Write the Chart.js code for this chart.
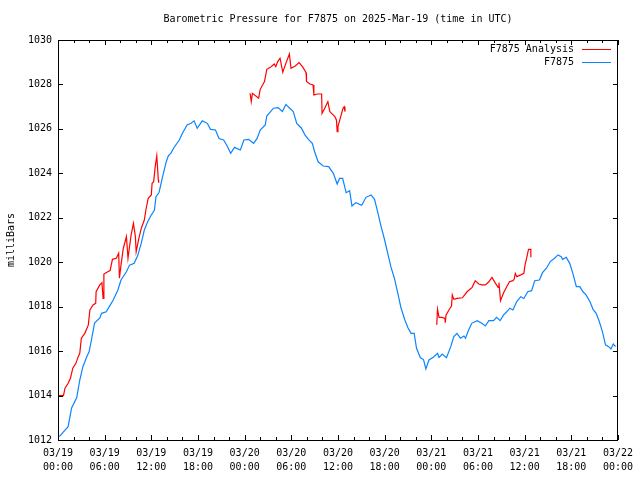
<!DOCTYPE html>
<html lang="en">
<head>
    <meta charset="UTF-8">
    <title>Barometric Pressure for F7875</title>
    <script src="https://cdn.jsdelivr.net/npm/chart.js"></script>
    <style>
        html, body { margin: 0; padding: 0; background: #fff; }
        #wrap { width: 640px; height: 480px; }
    </style>
</head>
<body>
<div id="wrap"><canvas id="pressureChart" width="640" height="480"></canvas></div>
<script>
    const chartTitle = 'Barometric Pressure for F7875 on 2025-Mar-19 (time in UTC)';
    const yAxisTitle = 'milliBars';

    // x values are hours since 2025-03-19 00:00 UTC
    const tickLabels = [
        ['03/19', '00:00'], ['03/19', '06:00'], ['03/19', '12:00'], ['03/19', '18:00'],
        ['03/20', '00:00'], ['03/20', '06:00'], ['03/20', '12:00'], ['03/20', '18:00'],
        ['03/21', '00:00'], ['03/21', '06:00'], ['03/21', '12:00'], ['03/21', '18:00'],
        ['03/22', '00:00']
    ];

    const stationLabel = 'F7875';
    const stationHours = [
        0.0, 0.3, 0.7, 1.3, 1.75, 2.4, 2.8, 3.2, 3.7, 4.0, 4.3, 4.7, 5.4, 5.6, 6.2, 6.6, 7.1, 7.7, 8.1, 8.8,
        9.2, 9.8, 10.25, 10.7, 11.1, 11.5, 11.96, 12.4, 12.6, 13.0, 13.45, 13.9, 14.2, 14.5, 14.9, 15.6, 16.0,
        16.6, 17.1, 17.5, 17.9, 18.55, 19.2, 19.6, 20.25, 20.7, 21.3, 21.75, 22.2, 22.7, 23.45, 23.9, 24.5,
        25.15, 25.6, 26.0, 26.65, 26.85, 27.7, 28.3, 28.85, 29.3, 29.8, 30.25, 30.7, 31.3, 31.75, 32.2, 32.7,
        33.0, 33.45, 34.1, 34.8, 35.4, 35.9, 36.2, 36.6, 37.05, 37.5, 37.8, 38.3, 39.05, 39.6, 40.25, 40.7,
        41.1, 41.5, 42.0, 42.4, 42.8, 43.25, 43.7, 44.1, 44.6, 45.0, 45.4, 45.8, 46.1, 46.6, 47.0, 47.3, 47.7,
        48.35, 48.8, 49.0, 49.4, 49.95, 50.5, 50.9, 51.3, 51.75, 52.2, 52.4, 52.8, 53.2, 53.9, 54.5, 54.95,
        55.4, 56.0, 56.4, 56.85, 57.3, 57.7, 58.1, 58.5, 58.97, 59.5, 59.9, 60.4, 60.9, 61.3, 61.9, 62.3,
        62.8, 63.3, 63.85, 64.3, 64.7, 64.9, 65.35, 65.8, 66.2, 66.65, 67.1, 67.5, 67.9, 68.4, 68.8, 69.2,
        69.6, 70.0, 70.4, 70.8, 71.1, 71.4, 71.7
    ];
    const stationPressure = [
        1012.15, 1012.2, 1012.37, 1012.6, 1013.44, 1013.9, 1014.7, 1015.3, 1015.75, 1015.97, 1016.5, 1017.26,
        1017.5, 1017.7, 1017.77, 1018.0, 1018.3, 1018.75, 1019.2, 1019.57, 1019.87, 1019.95, 1020.3, 1020.85,
        1021.45, 1021.8, 1022.1, 1022.35, 1022.95, 1023.15, 1023.85, 1024.5, 1024.8, 1024.9, 1025.15, 1025.5,
        1025.8, 1026.18, 1026.25, 1026.36, 1026.03, 1026.36, 1026.25, 1025.98, 1025.95, 1025.57, 1025.5,
        1025.23, 1024.9, 1025.17, 1025.05, 1025.5, 1025.53, 1025.35, 1025.57, 1025.95, 1026.18, 1026.58,
        1026.93, 1026.96, 1026.78, 1027.1, 1026.93, 1026.78, 1026.25, 1026.03, 1025.73, 1025.53, 1025.35,
        1024.97, 1024.52, 1024.33, 1024.3, 1024.0, 1023.52, 1023.77, 1023.77, 1023.13, 1023.22, 1022.53,
        1022.68, 1022.56, 1022.92, 1023.03, 1022.83, 1022.27, 1021.67, 1021.0, 1020.4, 1019.8, 1019.28,
        1018.6, 1017.95, 1017.4, 1017.05, 1016.8, 1016.8, 1016.13, 1015.7, 1015.62, 1015.2, 1015.6, 1015.75,
        1015.9, 1015.72, 1015.87, 1015.7, 1016.2, 1016.65, 1016.8, 1016.58, 1016.68, 1016.58, 1016.95,
        1017.25, 1017.37, 1017.25, 1017.13, 1017.37, 1017.37, 1017.52, 1017.37, 1017.63, 1017.77, 1017.93,
        1017.85, 1018.22, 1018.45, 1018.37, 1018.67, 1018.72, 1019.17, 1019.2, 1019.53, 1019.73, 1020.03,
        1020.18, 1020.33, 1020.25, 1020.13, 1020.22, 1019.95, 1019.5, 1018.9, 1018.9, 1018.67, 1018.53,
        1018.22, 1017.88, 1017.7, 1017.33, 1016.88, 1016.28, 1016.2, 1016.1, 1016.32, 1016.2
    ];

    // null = no analysis data (gap in the line)
    const analysisLabel = 'F7875 Analysis';
    const analysisHours = [
        0.0, 0.7, 0.9, 1.3, 1.6, 1.9, 2.3, 2.6, 2.8, 3.0, 3.45, 3.9, 4.1, 4.5, 4.85, 4.9, 5.36, 5.65, 5.8,
        5.9, 6.4, 6.7, 7.0, 7.5, 7.8, 7.9, 8.1, 8.4, 8.8, 9.0, 9.2, 9.4, 9.7, 9.95, 10.05, 10.4, 10.7, 11.1,
        11.3, 11.6, 12.0, 12.1, 12.3, 12.5, 12.7, 12.9, 12.95,
        18.0,
        24.7, 24.85, 25.0, 25.8, 26.0, 26.55, 26.85, 27.3, 27.8, 28.0, 28.25, 28.55, 28.9, 29.3, 29.75,
        29.96, 30.5, 31.0, 31.5, 31.9, 31.95, 32.4, 32.8, 32.9, 33.35, 33.9, 33.95, 34.3, 34.7, 34.95, 35.6,
        35.8, 35.9, 36.0, 36.35, 36.65, 36.8, 36.9,
        42.0,
        48.7, 48.8, 49.0, 49.4, 49.75, 49.8, 49.9, 50.4, 50.6, 50.7, 50.9, 51.3, 52.0, 52.6, 53.25, 53.65,
        54.1, 54.5, 54.95, 55.4, 55.8, 56.25, 56.6, 56.7, 56.9, 57.3, 57.7, 58.05, 58.5, 58.65, 58.8, 59.0,
        59.5, 59.9, 60.05, 60.3, 60.5, 60.8, 60.8
    ];
    const analysisPressure = [
        1014.0, 1014.0, 1014.33, 1014.55, 1014.78, 1015.23, 1015.45, 1015.75, 1015.9, 1016.58, 1016.8,
        1017.18, 1017.85, 1018.08, 1018.15, 1018.67, 1018.97, 1019.08, 1018.37, 1019.47, 1019.57, 1019.62,
        1020.13, 1020.18, 1020.4, 1019.28, 1019.87, 1020.63, 1021.15, 1020.18, 1020.7, 1021.22, 1021.75,
        1021.15, 1020.47, 1021.07, 1021.52, 1021.9, 1022.35, 1022.88, 1023.03, 1023.55, 1023.62, 1024.3,
        1024.78, 1023.7, 1023.58,
        null,
        1027.6, 1027.23, 1027.6, 1027.38, 1027.78, 1028.13, 1028.68, 1028.77, 1028.92, 1028.8, 1029.03,
        1029.18, 1028.55, 1028.95, 1029.37, 1028.73, 1028.83, 1028.98, 1028.77, 1028.53, 1028.13, 1028.02,
        1027.98, 1027.53, 1027.57, 1027.57, 1026.7, 1026.93, 1027.23, 1026.78, 1026.55, 1026.4, 1025.88,
        1026.1, 1026.55, 1026.93, 1027.0, 1026.78,
        null,
        1017.18, 1017.88, 1017.52, 1017.52, 1017.47, 1017.28, 1017.63, 1017.93, 1018.03, 1018.53, 1018.33,
        1018.37, 1018.4, 1018.67, 1018.87, 1019.17, 1019.02, 1018.98, 1018.98, 1019.12, 1019.32, 1019.05,
        1018.87, 1019.08, 1018.27, 1018.63, 1018.9, 1019.12, 1019.17, 1019.23, 1019.5, 1019.35, 1019.43,
        1019.5, 1019.87, 1020.25, 1020.58, 1020.58, 1020.22
    ];

    const FONT = '"DejaVu Sans Mono", "Liberation Mono", monospace';

    function toPoints(xs, ys) {
        return xs.map((x, i) => ({ x: x, y: ys[i] }));
    }

    // gnuplot-like frame: box, inward ticks on all sides, title, legend in the corner
    const gnuplotFrame = {
        id: 'gnuplotFrame',
        afterDraw(chart) {
            const ctx = chart.ctx;
            const area = chart.chartArea;
            const xs = chart.scales.x;
            const ys = chart.scales.y;
            ctx.save();
            ctx.strokeStyle = '#000';
            ctx.lineWidth = 1;
            ctx.beginPath();
            ctx.rect(Math.round(area.left) + 0.5, Math.round(area.top) + 0.5,
                Math.round(area.right - area.left) - 1, Math.round(area.bottom - area.top));

            ys.ticks.forEach(t => {
                const y = Math.round(ys.getPixelForValue(t.value)) + 0.5;
                ctx.moveTo(area.left, y); ctx.lineTo(area.left + 5, y);
                ctx.moveTo(area.right, y); ctx.lineTo(area.right - 5, y);
            });
            for (let h = xs.min; h <= xs.max; h += 2) {
                const x = Math.round(xs.getPixelForValue(h)) + 0.5;
                const len = (h % 6 === 0) ? 5 : 3;
                ctx.moveTo(x, area.bottom); ctx.lineTo(x, area.bottom - len);
                ctx.moveTo(x, area.top); ctx.lineTo(x, area.top + len);
            }
            ctx.stroke();

            ctx.fillStyle = '#000';
            ctx.font = '10px ' + FONT;
            ctx.textAlign = 'center';
            ctx.textBaseline = 'middle';
            ctx.fillText(chartTitle, (area.left + area.right) / 2, 19);

            ctx.textAlign = 'right';
            chart.data.datasets.forEach((ds, i) => {
                const y = 49 + i * 13;
                ctx.fillStyle = '#000';
                ctx.fillText(ds.label, 574, y);
                ctx.strokeStyle = ds.borderColor;
                ctx.beginPath();
                ctx.moveTo(582, Math.round(y) + 0.5);
                ctx.lineTo(611, Math.round(y) + 0.5);
                ctx.stroke();
            });
            ctx.restore();
        }
    };

    new Chart(document.getElementById('pressureChart'), {
        type: 'line',
        data: {
            datasets: [
                {
                    label: analysisLabel,
                    data: toPoints(analysisHours, analysisPressure),
                    borderColor: '#ff0000',
                    borderWidth: 1.2,
                    pointRadius: 0,
                    tension: 0,
                    spanGaps: false
                },
                {
                    label: stationLabel,
                    data: toPoints(stationHours, stationPressure),
                    borderColor: '#0a84ff',
                    borderWidth: 1.2,
                    pointRadius: 0,
                    tension: 0
                }
            ]
        },
        options: {
            responsive: false,
            animation: false,
            layout: { padding: { top: 40, right: 18, left: 0, bottom: 0 } },
            plugins: {
                legend: { display: false },
                title: { display: false },
                tooltip: { enabled: false }
            },
            scales: {
                x: {
                    type: 'linear',
                    min: 0,
                    max: 72,
                    grid: { display: false, drawTicks: false },
                    border: { display: false },
                    ticks: {
                        stepSize: 6,
                        maxRotation: 0,
                        autoSkip: false,
                        padding: 7,
                        color: '#000',
                        font: { family: FONT, size: 10, lineHeight: 1.35 },
                        callback: (value) => tickLabels[value / 6]
                    },
                    afterFit: (scale) => { scale.height = 40; }
                },
                y: {
                    min: 1012,
                    max: 1030,
                    grid: { display: false, drawTicks: false },
                    border: { display: false },
                    ticks: {
                        stepSize: 2,
                        padding: 6,
                        color: '#000',
                        font: { family: FONT, size: 10 },
                        callback: (value) => String(value)
                    },
                    title: {
                        display: true,
                        text: yAxisTitle,
                        color: '#000',
                        font: { family: FONT, size: 10 },
                        padding: { top: 5, bottom: 0 }
                    },
                    afterFit: (scale) => { scale.width = 58; }
                }
            }
        },
        plugins: [gnuplotFrame]
    });
</script>
</body>
</html>
